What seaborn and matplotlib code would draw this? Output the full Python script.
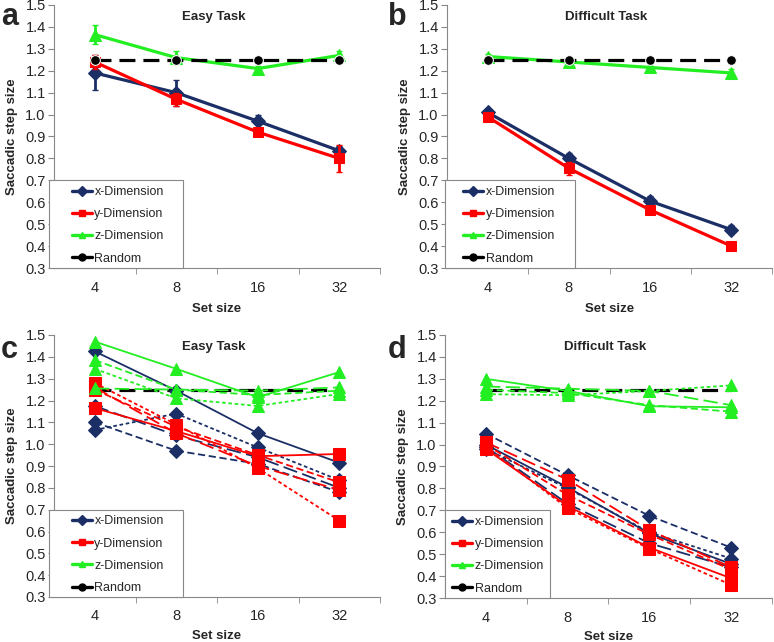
import numpy as np
import pandas as pd
import matplotlib
matplotlib.use("Agg")
import matplotlib.pyplot as plt
import seaborn as sns
from matplotlib.lines import Line2D
from matplotlib.patches import Rectangle
from matplotlib.ticker import FixedLocator, MultipleLocator, FormatStrFormatter

# Categorias del eje x (tamano del conjunto)
set_sizes = ["4", "8", "16", "32"]
random_level = [1.25, 1.25, 1.25, 1.25]

# Panel a: tarea facil (medias y error)
easy_x = [1.19, 1.10, 0.97, 0.835]
easy_x_err = [0.08, 0.06, 0.03, 0.02]
easy_y = [1.24, 1.07, 0.92, 0.80]
easy_y_err = [0.03, 0.03, 0.015, 0.06]
easy_z = [1.365, 1.26, 1.21, 1.27]
easy_z_err = [0.045, 0.03, 0.012, 0.02]

# Panel b: tarea dificil (medias y error)
hard_x = [1.01, 0.80, 0.605, 0.475]
hard_x_err = [0.008, 0.025, 0.025, 0.02]
hard_y = [0.99, 0.755, 0.565, 0.40]
hard_y_err = [0.008, 0.03, 0.015, 0.015]
hard_z = [1.265, 1.24, 1.215, 1.19]
hard_z_err = [0.01, 0.012, 0.015, 0.02]

# Panel c: sujetos individuales, tarea facil
subj_easy_x = [[1.425, 1.245, 1.05, 0.915],
               [1.175, 1.04, 0.94, 0.80],
               [1.10, 0.97, 0.91, 0.78],
               [1.065, 1.14, 0.985, 0.835]]
subj_easy_y = [[1.165, 1.06, 0.945, 0.955],
               [1.26, 1.05, 0.90, 0.79],
               [1.25, 1.08, 0.95, 0.825],
               [1.28, 1.09, 0.89, 0.65]]
subj_easy_z = [[1.47, 1.345, 1.215, 1.33],
               [1.255, 1.25, 1.245, 1.26],
               [1.385, 1.25, 1.225, 1.245],
               [1.345, 1.21, 1.175, 1.23]]

# Panel d: sujetos individuales, tarea dificil
subj_hard_x = [[1.0, 0.805, 0.595, 0.455],
               [0.99, 0.73, 0.55, 0.44],
               [1.05, 0.86, 0.675, 0.53],
               [0.98, 0.80, 0.60, 0.48]]
subj_hard_y = [[0.98, 0.72, 0.53, 0.39],
               [1.01, 0.84, 0.61, 0.44],
               [1.0, 0.77, 0.59, 0.43],
               [0.99, 0.71, 0.525, 0.36]]
subj_hard_z = [[1.30, 1.245, 1.175, 1.17],
               [1.265, 1.255, 1.245, 1.18],
               [1.25, 1.235, 1.18, 1.15],
               [1.23, 1.225, 1.245, 1.27]]

labels = ["x-Dimension", "y-Dimension", "z-Dimension", "Random"]
colors = ["#1B2F66", "#FF0000", "#22EE22", "#000000"]
markers = ["D", "s", "^", "o"]
subj_styles = ["-", (0, (8, 3)), (0, (4, 2)), (0, (2, 1.5))]

sns.set_style("white")
plt.rcParams["font.family"] = ["Liberation Sans", "DejaVu Sans"]

fig = plt.figure(figsize=(7.74, 6.42), dpi=100)
W, H = 774, 642


def make_axes(left, right, top, bottom):
    return fig.add_axes([left / W, 1 - bottom / H, (right - left) / W, (bottom - top) / H])


ax_a = make_axes(54, 380, 5, 268)
ax_b = make_axes(447, 772, 5, 268)
ax_c = make_axes(54, 380, 335, 597)
ax_d = make_axes(445, 772, 335, 598)

pos = np.arange(len(set_sizes))


def style_axes(ax, title, xlabelpad=6):
    ax.set_xlim(-0.5, 3.5)
    ax.set_ylim(0.3, 1.5)
    ax.yaxis.set_major_locator(MultipleLocator(0.1))
    ax.yaxis.set_major_formatter(FormatStrFormatter("%.1f"))
    ax.set_xticks(pos)
    ax.set_xticklabels(set_sizes)
    ax.xaxis.set_minor_locator(FixedLocator([0.5, 1.5, 2.5, 3.5]))
    ax.tick_params(axis="x", which="major", length=0, labelsize=10.5, pad=9)
    ax.tick_params(axis="x", which="minor", length=4, color="#888888", direction="out")
    ax.tick_params(axis="y", length=4, color="#888888", direction="out", labelsize=10.5, pad=2)
    ax.tick_params(left=True, bottom=True, which="both")
    for s in ["top", "right"]:
        ax.spines[s].set_visible(False)
    for s in ["left", "bottom"]:
        ax.spines[s].set_color("#888888")
        ax.spines[s].set_linewidth(0.8)
    ax.set_xlabel("Set size", fontweight="bold", fontsize=9.5, labelpad=xlabelpad)
    ax.set_ylabel("Saccadic step size", fontweight="bold", fontsize=9.5, labelpad=5)
    ax.text(0.49, 0.955, title, transform=ax.transAxes, ha="center", va="center",
            fontweight="bold", fontsize=9.5)


def add_legend(ax, box_left, box_right, handle_left):
    # Marco dibujado a mano (como en Excel) y leyenda sin marco dentro
    x0 = box_left
    ax.add_patch(Rectangle((x0, 0), box_right - x0, 0.333, transform=ax.transAxes,
                           facecolor="white", edgecolor="#888888", lw=0.8,
                           clip_on=False, zorder=5))
    handles = [Line2D([], [], color=c, marker=m, markersize=5, lw=2.4)
               for c, m in zip(colors, markers)]
    leg = ax.legend(handles, labels, loc="upper left", bbox_to_anchor=(handle_left, 0.312),
                    borderaxespad=0, borderpad=0, frameon=False, fontsize=9,
                    labelspacing=0.82, handlelength=1.6, handletextpad=0.2)
    leg.set_zorder(6)


def mean_panel(ax, xs, ys, zs, errs, title):
    # Lineas de medias con barras de error
    series = [xs, ys, zs]
    msz = [7, 7, 8.5]
    for vals, err, c, m, ms in zip(series, errs, colors, markers, msz):
        sns.lineplot(x=pos, y=vals, ax=ax, color=c, marker=m, markersize=ms,
                     markeredgecolor=c, lw=2.3, zorder=3)
        ax.errorbar(pos, vals, yerr=err, fmt="none", ecolor=c, elinewidth=2, capsize=2, zorder=3)
    sns.lineplot(x=pos, y=random_level, ax=ax, color="black", marker="o", markersize=7,
                 lw=2.3, linestyle=(0, (5, 2.5)), zorder=4)
    style_axes(ax, title)


def subject_panel(ax, xs, ys, zs, title):
    # Un trazo por sujeto, cada uno con su estilo de linea
    for group, c, m, ms in zip([xs, ys, zs], colors, markers, [7, 8, 9]):
        for vals, ls in zip(group, subj_styles):
            sns.lineplot(x=pos, y=vals, ax=ax, color=c, marker=m, markersize=ms,
                         markeredgecolor=c, lw=1.3, linestyle=ls, zorder=3)
    sns.lineplot(x=pos, y=random_level, ax=ax, color="black", lw=2.3,
                 linestyle=(0, (5, 2.5)), zorder=2)
    style_axes(ax, title, xlabelpad=4.5)


mean_panel(ax_a, easy_x, easy_y, easy_z, [easy_x_err, easy_y_err, easy_z_err], "Easy Task")
mean_panel(ax_b, hard_x, hard_y, hard_z, [hard_x_err, hard_y_err, hard_z_err], "Difficult Task")
subject_panel(ax_c, subj_easy_x, subj_easy_y, subj_easy_z, "Easy Task")
subject_panel(ax_d, subj_hard_x, subj_hard_y, subj_hard_z, "Difficult Task")

add_legend(ax_a, -0.015, 0.396, 0.055)
add_legend(ax_b, -0.006, 0.394, 0.05)
add_legend(ax_c, -0.015, 0.396, 0.055)
add_legend(ax_d, 0.0, 0.322, 0.022)

# Letras de los paneles
for letter, (x, y) in zip("abcd", [(1, 2), (388, 2), (1, 335), (388, 335)]):
    fig.text(x / W, 1 - y / H, letter, fontsize=22, fontweight="bold", va="top", ha="left")

fig.savefig("out.png", dpi=100)
